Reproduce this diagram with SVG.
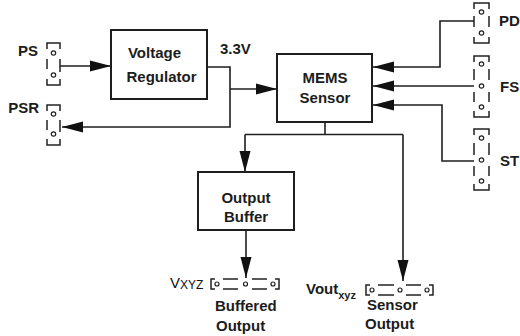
<svg xmlns="http://www.w3.org/2000/svg" width="520" height="336" viewBox="0 0 520 336">
<style>
  .box{fill:#fff;stroke:#1e1e1e;stroke-width:2}
  .ln{fill:none;stroke:#1e1e1e;stroke-width:1.6}
  .br{fill:none;stroke:#222;stroke-width:1.5}
  .pin{fill:#fff;stroke:#222;stroke-width:1.2}
  .t{font-family:"Liberation Sans",Arial,sans-serif;font-weight:bold;font-size:15px;fill:#1c1c1c}
  .r{font-weight:normal;fill:#111}
</style>
<defs>
  <marker id="ah" markerUnits="userSpaceOnUse" markerWidth="22" markerHeight="12" refX="21" refY="6" orient="auto">
    <path d="M0,0.5 L21,6 L0,11.5 z" fill="#111"/>
  </marker>
</defs>
<rect width="520" height="336" fill="#fff"/>

<g id="connectors">
  <path class="ln" d="M60,66 H111" marker-end="url(#ah)"/>
  <path class="ln" d="M207,67 H230 V127 H62" marker-end="url(#ah)"/>
  <path class="ln" d="M230,89 H277" marker-end="url(#ah)"/>
  <path class="ln" d="M474,21 H440 V67 H373" marker-end="url(#ah)"/>
  <path class="ln" d="M474,86 H373" marker-end="url(#ah)"/>
  <path class="ln" d="M474,161 H442 V105 H373" marker-end="url(#ah)"/>
  <path class="ln" d="M325,122 V134.5 M245,134.5 H403"/>
  <path class="ln" d="M245,134.5 V172" marker-end="url(#ah)"/>
  <path class="ln" d="M403,134.5 V281" marker-end="url(#ah)"/>
  <path class="ln" d="M246,230 V278" marker-end="url(#ah)"/>
</g>

<g id="voltage-regulator">
  <rect class="box" x="111" y="30" width="96" height="69"/>
  <text class="t" x="154.5" y="58" text-anchor="middle">Voltage</text>
  <text class="t" x="161.5" y="81.5" text-anchor="middle">Regulator</text>
</g>
<g id="label-3v3"><text class="t" x="220" y="54">3.3V</text></g>

<g id="mems-sensor">
  <rect class="box" x="277" y="54" width="95" height="68"/>
  <text class="t" x="325" y="83" text-anchor="middle">MEMS</text>
  <text class="t" x="325" y="103" text-anchor="middle">Sensor</text>
</g>

<g id="output-buffer">
  <rect class="box" x="198" y="172" width="96" height="58"/>
  <text class="t" x="246" y="203" text-anchor="middle">Output</text>
  <text class="t" x="246" y="222" text-anchor="middle">Buffer</text>
</g>

<g id="ps">
  <path class="br" d="M47,49 V43 H60 V49 M47,79 V85 H60 V79 M47,59 V69 M60,59 V72"/>
  <circle class="pin" cx="53.5" cy="53" r="2.2"/>
  <circle class="pin" cx="53.5" cy="75" r="2.2"/>
  <text class="t" x="38" y="56" text-anchor="end">PS</text>
</g>

<g id="psr">
  <path class="br" d="M47,111 V105 H60 V111 M47,139 V145 H60 V139 M47,120 V130 M60,120 V132"/>
  <circle class="pin" cx="53.5" cy="114" r="2.2"/>
  <circle class="pin" cx="53.5" cy="134" r="2.2"/>
  <text class="t" x="39" y="113" text-anchor="end">PSR</text>
</g>

<g id="pd">
  <path class="br" d="M474,9 V3 H489 V9 M474,37 V43 H489 V37 M474,16 V27 M489,16 V27"/>
  <circle class="pin" cx="481.5" cy="12" r="2.2"/>
  <circle class="pin" cx="481.5" cy="33" r="2.2"/>
  <text class="t" x="499" y="26">PD</text>
</g>

<g id="fs">
  <path class="br" d="M474,62 V56 H489 V62 M474,111 V117 H489 V111 M474,69 V80 M489,69 V80 M474,92 V102 M489,92 V102"/>
  <circle class="pin" cx="481.5" cy="64" r="2.2"/>
  <circle class="pin" cx="481.5" cy="86" r="2.2"/>
  <circle class="pin" cx="481.5" cy="107" r="2.2"/>
  <text class="t" x="500" y="92">FS</text>
</g>

<g id="st">
  <path class="br" d="M474,135 V129 H489 V135 M474,184 V190 H489 V184 M474,143 V155 M489,143 V155 M474,166 V176 M489,166 V176"/>
  <circle class="pin" cx="481.5" cy="138" r="2.2"/>
  <circle class="pin" cx="481.5" cy="160" r="2.2"/>
  <circle class="pin" cx="481.5" cy="181" r="2.2"/>
  <text class="t" x="500" y="166">ST</text>
</g>

<g id="buffered-output">
  <path class="br" d="M215,279 H211 V289 H215 M275,279 H279 V289 H275 M223,279 H238 M223,289 H238 M252,279 H267 M252,289 H267"/>
  <circle class="pin" cx="217" cy="284" r="2"/>
  <circle class="pin" cx="245.5" cy="284" r="2"/>
  <circle class="pin" cx="273" cy="284" r="2"/>
  <text class="t r" x="170" y="288">V<tspan font-size="12" dy="1">XYZ</tspan></text>
  <text class="t" x="215" y="311" font-size="14.5">Buffered</text>
  <text class="t" x="216" y="331" font-size="14.5">Output</text>
</g>

<g id="sensor-output">
  <path class="br" d="M370,285 H366 V295 H370 M429,285 H433 V295 H429 M378,285 H394 M378,295 H394 M406,285 H421 M406,295 H421"/>
  <circle class="pin" cx="372" cy="290" r="2"/>
  <circle class="pin" cx="400" cy="290" r="2"/>
  <circle class="pin" cx="427" cy="290" r="2"/>
  <text class="t" x="306" y="294">Vout<tspan font-size="11" dy="5">xyz</tspan></text>
  <text class="t" x="367" y="310">Sensor</text>
  <text class="t" x="365" y="329">Output</text>
</g>
</svg>
